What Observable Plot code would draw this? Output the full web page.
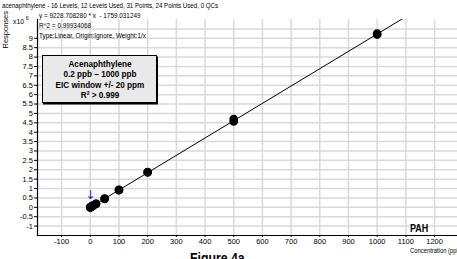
<!DOCTYPE html>
<html>
<head>
<meta charset="utf-8">
<script src="https://cdn.jsdelivr.net/npm/d3@7"></script>
<script src="https://cdn.jsdelivr.net/npm/@observablehq/plot@0.6"></script>
<style>
  html, body { margin: 0; padding: 0; background: #fff; overflow: hidden; width: 457px; height: 259px; }
  #wrap { position: relative; width: 457px; height: 259px; overflow: hidden; font-family: "Liberation Sans", Arial, sans-serif; }
  .ov { position: absolute; white-space: nowrap; color: #000; line-height: 1; transform-origin: left top; }
  #box { position: absolute; left: 42px; top: 55px; width: 115px; height: 48px; border: 1px solid #000;
         box-shadow: 1px 1.5px 0 #000;
         background-color: #fff;
         background-image: radial-gradient(#9a9a9a 0.55px, transparent 0.75px);
         background-size: 2px 2px; box-sizing: border-box; }
  #boxtext { position: absolute; left: 50%; top: 3px; transform: translateX(-50%) scaleX(0.86); text-align: center; font-weight: bold; font-size: 9.5px; line-height: 10.4px; white-space: nowrap; }
</style>
</head>
<body>
<div id="wrap"></div>
<script>
// ---- data ----
const concentrations = [0.2, 0.2, 0.5, 0.5, 1, 1, 2, 2, 5, 5, 10, 10, 20, 20, 50, 50, 100, 100, 200, 200, 500, 500, 1000, 1000];
const responses = [1900, 2000, 4500, 4800, 9000, 9500, 18000, 19000, 45000, 47000, 92000, 95000, 185000, 190000, 450000, 462000, 915000, 930000, 1860000, 1880000, 4580000, 4700000, 9200000, 9250000];
const slope = 9228.708280;
const intercept = -1759.031249;
const fitRange = [0, 1100];
const xTicks = [-100, 0, 100, 200, 300, 400, 500, 600, 700, 800, 900, 1000, 1100, 1200];
const yTicks = [-1, -0.5, 0, 0.5, 1, 1.5, 2, 2.5, 3, 3.5, 4, 4.5, 5, 5.5, 6, 6.5, 7, 7.5, 8, 8.5, 9];
const yGrid = [-1, -0.5, 0, 0.5, 1, 1.5, 2, 2.5, 3, 3.5, 4, 4.5, 5, 5.5, 6, 6.5, 7, 7.5, 8, 8.5, 9, 9.5];
const origin = [{x: 0, y: 0}];

const points = concentrations.map((c, i) => ({x: c, y: responses[i] / 1e6}));
const fit = fitRange.map(x => ({x, y: (slope * x + intercept) / 1e6}));

const font = "'Liberation Sans', Arial, sans-serif";

const chart = Plot.plot({
  width: 457,
  height: 259,
  marginLeft: 37,
  marginRight: 0,
  marginTop: 19,
  marginBottom: 24,
  style: {fontFamily: font, fontSize: "7.5px", background: "transparent", overflow: "visible"},
  x: {domain: [-184, 1280]},
  y: {domain: [-1.5, 10]},
  marks: [
    Plot.gridX(xTicks, {stroke: "#d9d9d9", strokeOpacity: 1, strokeWidth: 1.5}),
    Plot.gridY(yGrid, {stroke: "#d9d9d9", strokeOpacity: 1, strokeWidth: 1.5}),
    Plot.axisX(xTicks, {tickSize: 2, tickPadding: 1, tickFormat: d => String(d), fontSize: 7.5, label: null}),
    Plot.axisY(yTicks, {tickSize: 3, tickPadding: 1.5, tickFormat: d => String(d), fontSize: 7.5, label: null}),
    Plot.frame({anchor: "bottom", stroke: "#000", strokeWidth: 1.2}),
    Plot.frame({anchor: "left", stroke: "#000", strokeWidth: 1.2}),
    Plot.line(fit, {x: "x", y: "y", stroke: "#000", strokeWidth: 1, clip: true}),
    Plot.dot(points, {x: "x", y: "y", r: 3.6, fill: "#000", stroke: "#000"}),
    Plot.text(origin, {x: "x", y: "y", text: () => "↓", fill: "#1a1acc", fontSize: 12, dy: -12, fontFamily: "DejaVu Sans"})
  ]
});

const wrap = document.getElementById("wrap");
wrap.appendChild(chart);
chart.style.position = "absolute";
chart.style.left = "0px";
chart.style.top = "0px";

function ov(html, css, sx) {
  const d = document.createElement("div");
  d.className = "ov";
  d.innerHTML = html;
  Object.assign(d.style, css);
  if (sx) d.style.transform = (css.transform ? css.transform + " " : "") + "scaleX(" + sx + ")";
  wrap.appendChild(d);
  return d;
}
ov("acenaphthylene - 16 Levels, 12 Levels Used, 31 Points, 24 Points Used, 0 QCs", {left: "2px", top: "2px", fontSize: "7.5px"}, 0.82);
ov("y = 9228.708280 * x &nbsp;- 1759.031249", {left: "39px", top: "12px", fontSize: "7.5px"}, 0.85);
ov("R^2 = 0.99934068", {left: "39px", top: "22px", fontSize: "7.5px"}, 0.85);
ov("Type:Linear, Origin:Ignore, Weight:1/x", {left: "39px", top: "32px", fontSize: "7.5px"}, 0.85);
ov("x10 <sup style='font-size:6px;vertical-align:4px'>6</sup>", {left: "13px", top: "15px", fontSize: "7.5px"}, 0.9);
ov("Responses", {left: "-13px", top: "26px", fontSize: "7.5px", transform: "rotate(-90deg)", transformOrigin: "center"});
ov("PAH", {left: "410px", top: "224px", fontSize: "10px", fontWeight: "bold"}, 0.9);
ov("Concentration (ppb)", {left: "410px", top: "248px", fontSize: "6.5px"}, 0.9);
ov("Figure 4a", {left: "190px", top: "250px", fontSize: "15px", fontWeight: "bold"}, 0.82);

const box = document.createElement("div");
box.id = "box";
box.innerHTML = "<div id='boxtext'>Acenaphthylene<br>0.2 ppb – 1000 ppb<br>EIC window +/- 20 ppm<br>R<sup style='font-size:6px;vertical-align:3px;line-height:0'>2</sup> &gt; 0.999</div>";
wrap.appendChild(box);
</script>
</body>
</html>
